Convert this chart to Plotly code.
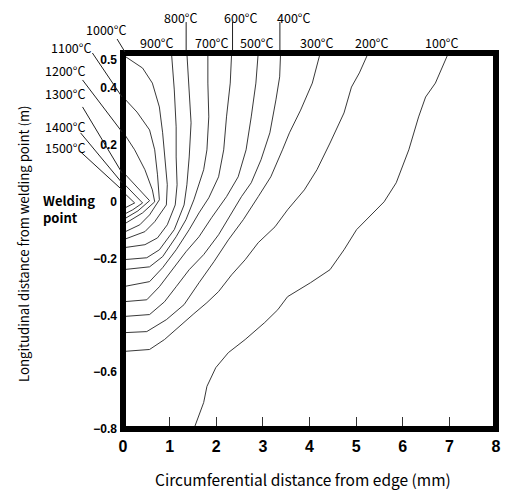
import plotly.graph_objects as go

# Contour levels (deg C) and traced isotherm coordinates
levels = [100, 200, 300, 400, 500, 600, 700, 800, 900, 1000, 1100, 1200, 1300, 1400, 1500]

x100 = [6.98, 6.70, 6.49, 6.34, 6.13, 5.86, 5.60, 5.29, 5.01, 4.74, 4.44, 4.02, 3.53, 3.32, 3.04, 2.62, 2.26, 1.99, 1.80, 1.73, 1.52]
y100 = [0.524, 0.418, 0.369, 0.299, 0.183, 0.067, 0.0, -0.053, -0.098, -0.169, -0.239, -0.285, -0.334, -0.380, -0.425, -0.485, -0.531, -0.584, -0.650, -0.707, -0.800]

x200 = [5.26, 5.07, 4.90, 4.74, 4.44, 4.16, 3.89, 3.53, 3.26, 2.90, 2.62, 2.33, 2.05, 1.80, 1.52, 1.21, 0.89, 0.57, 0.0]
y200 = [0.524, 0.454, 0.404, 0.313, 0.207, 0.113, 0.042, -0.028, -0.088, -0.144, -0.204, -0.257, -0.316, -0.355, -0.394, -0.440, -0.485, -0.520, -0.527]

x300 = [4.23, 4.06, 3.81, 3.57, 3.42, 3.17, 2.90, 2.58, 2.26, 1.95, 1.63, 1.31, 0.93, 0.51, 0.0]
y300 = [0.524, 0.418, 0.323, 0.243, 0.183, 0.088, 0.018, -0.063, -0.134, -0.211, -0.285, -0.362, -0.415, -0.457, -0.461]

x400 = [3.38, 3.36, 3.28, 3.15, 2.96, 2.75, 2.54, 2.33, 2.05, 1.73, 1.42, 1.14, 0.89, 0.57, 0.0]
y400 = [0.524, 0.440, 0.359, 0.243, 0.148, 0.067, 0.018, -0.039, -0.116, -0.186, -0.239, -0.299, -0.352, -0.397, -0.404]

x500 = [2.90, 2.85, 2.75, 2.64, 2.47, 2.22, 1.90, 1.63, 1.35, 1.06, 0.78, 0.51, 0.0]
y500 = [0.524, 0.418, 0.299, 0.183, 0.088, 0.018, -0.056, -0.123, -0.176, -0.239, -0.299, -0.345, -0.352]

x600 = [2.33, 2.30, 2.22, 2.16, 2.05, 1.84, 1.63, 1.42, 1.14, 0.85, 0.57, 0.0]
y600 = [0.524, 0.418, 0.299, 0.183, 0.088, 0.014, -0.039, -0.098, -0.169, -0.232, -0.281, -0.299]

x700 = [1.82, 1.82, 1.84, 1.80, 1.73, 1.63, 1.52, 1.35, 1.14, 0.85, 0.57, 0.0]
y700 = [0.524, 0.418, 0.299, 0.183, 0.113, 0.060, 0.007, -0.063, -0.123, -0.193, -0.229, -0.239]

x800 = [1.37, 1.42, 1.46, 1.42, 1.37, 1.31, 1.10, 0.78, 0.51, 0.0]
y800 = [0.524, 0.394, 0.278, 0.158, 0.060, -0.011, -0.098, -0.169, -0.197, -0.204]

x900 = [1.04, 1.10, 1.14, 1.14, 1.16, 1.12, 0.95, 0.74, 0.47, 0.0]
y900 = [0.524, 0.394, 0.264, 0.158, 0.060, -0.011, -0.081, -0.127, -0.151, -0.162]

x1000 = [0.0, 0.42, 0.63, 0.78, 0.85, 0.91, 0.95, 0.93, 0.68, 0.47, 0.0]
y1000 = [0.517, 0.471, 0.418, 0.334, 0.243, 0.148, 0.060, -0.011, -0.070, -0.105, -0.134]

x1100 = [0.0, 0.30, 0.57, 0.68, 0.74, 0.78, 0.57, 0.36, 0.0]
y1100 = [0.369, 0.316, 0.253, 0.183, 0.095, 0.007, -0.046, -0.081, -0.109]

x1200 = [0.0, 0.25, 0.47, 0.63, 0.68, 0.42, 0.0]
y1200 = [0.246, 0.183, 0.113, 0.042, 0.0, -0.039, -0.081]

x1300 = [0.0, 0.32, 0.57, 0.32, 0.0]
y1300 = [0.105, 0.049, 0.004, -0.032, -0.063]

x1400 = [0.0, 0.25, 0.42, 0.21, 0.0]
y1400 = [0.067, 0.025, -0.004, -0.028, -0.046]

x1500 = [0.0, 0.25, 0.0]
y1500 = [0.035, -0.004, -0.025]

xs = [x100, x200, x300, x400, x500, x600, x700, x800, x900, x1000, x1100, x1200, x1300, x1400, x1500]
ys = [y100, y200, y300, y400, y500, y600, y700, y800, y900, y1000, y1100, y1200, y1300, y1400, y1500]

x_ticks = [0, 1, 2, 3, 4, 5, 6, 7, 8]
y_ticks = [0.5, 0.4, 0.2, 0, -0.2, -0.4, -0.6, -0.8]
y_tick_text = ["0.5", "0.4", "0.2", "0", "\u22120.2", "\u22120.4", "\u22120.6", "\u22120.8"]

fig = go.Figure()
for lv, xx, yy in zip(levels, xs, ys):
    fig.add_trace(go.Scatter(x=xx, y=yy, mode="lines", name=f"{lv}\u00b0C",
                             line=dict(color="#222222", width=0.9), hoverinfo="name",
                             showlegend=False, cliponaxis=True))

GF = "Noto Sans CJK JP"
NF = "Liberation Sans"

# page has an 8px body margin, so the figure is offset by (8, 8)
fig.update_layout(
    width=501, height=483,
    margin=dict(l=115, r=8, t=45, b=62),
    paper_bgcolor="white", plot_bgcolor="white",
    showlegend=False,
    xaxis=dict(range=[0, 8], tickvals=x_ticks, ticks="inside", ticklen=12, tickwidth=1,
               tickcolor="#333", showgrid=False, zeroline=False, showline=False,
               tickfont=dict(family=NF, size=16, color="black", weight="bold"), ticklabelstandoff=6),
    yaxis=dict(range=[-0.8, 0.524], tickvals=y_ticks, ticktext=y_tick_text, ticks="",
               showgrid=False, zeroline=False, showline=False,
               tickfont=dict(family=NF, size=12, color="black", weight="bold"), ticklabelstandoff=5),
)

# thick frame
fig.add_shape(type="rect", xref="paper", yref="paper", x0=0, x1=1, y0=0, y1=1,
              line=dict(color="black", width=6), layer="above")

def px2paper(px, py):
    return (px - 123) / 378.0, (429.5 - py) / 376.5

ann = []
def lab(text, px, py, size=12.5, xanchor="center", family=GF, weight="normal", align="center", angle=0):
    x, y = px2paper(px, py)
    ann.append(dict(text=text, x=x, y=y, xref="paper", yref="paper", showarrow=False,
                    xanchor=xanchor, yanchor="middle", align=align, textangle=angle,
                    font=dict(family=family, size=size, color="black", weight=weight)))

# temperature labels
lab("800\u00b0C", 181, 17)
lab("600\u00b0C", 242, 17)
lab("400\u00b0C", 296, 17)
lab("1000\u00b0C", 106, 29)
lab("900\u00b0C", 157, 42)
lab("700\u00b0C", 213, 42)
lab("500\u00b0C", 258, 42)
lab("300\u00b0C", 319, 42)
lab("200\u00b0C", 375, 42)
lab("100\u00b0C", 446, 42)
lab("1100\u00b0C", 70, 47)
lab("1200\u00b0C", 64, 71)
lab("1300\u00b0C", 64, 94)
lab("1400\u00b0C", 64, 127)
lab("1500\u00b0C", 64, 148)
lab("Welding<br>point", 40, 209, size=13, xanchor="left", weight="bold", align="left")
lab("Circumferential distance from edge (mm)", 305, 480, size=15.5)
lab("Longitudinal distance from welding point (m)", 22, 244, size=13.2, angle=-90)
fig.update_layout(annotations=ann)

# leader lines
leaders = [((117, 39), (125, 52)), ((187, 22), (187, 50)), ((234, 22), (234, 50)), ((282, 22), (282, 50)),
           ((92, 53), (122, 97)), ((82, 80), (122, 132)), ((82, 107), (122, 173)),
           ((80, 133), (122, 183)), ((80, 152), (122, 190))]
for (a, b) in leaders:
    x0, y0 = px2paper(*a)
    x1, y1 = px2paper(*b)
    fig.add_shape(type="line", xref="paper", yref="paper", x0=x0, y0=y0, x1=x1, y1=y1,
                  line=dict(color="#222", width=1))

fig.write_html("out.html")
